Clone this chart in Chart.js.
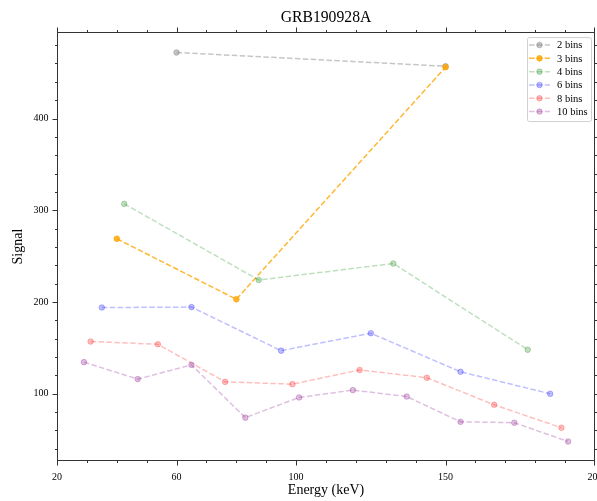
<!DOCTYPE html>
<html lang="en">
<head>
    <meta charset="UTF-8">
    <title>GRB190928A</title>
    <script src="https://cdn.jsdelivr.net/npm/chart.js"></script>
    <style>
        html, body { margin: 0; padding: 0; background: #fff; overflow: hidden; }
    </style>
</head>
<body>
    <canvas id="signalChart" width="597" height="501"></canvas>
    <script>
        // binned signal vs energy, one pair of arrays per binning
        var labels = ['2 bins', '3 bins', '4 bins', '6 bins', '8 bins', '10 bins'];
        var energy2 = [60, 150];
        var signal2 = [472, 457];
        var energy3 = [40, 80, 150];
        var signal3 = [269, 203, 456];
        var energy4 = [42.5, 87.5, 132.5, 177.5];
        var signal4 = [307, 224, 242, 148];
        var energy6 = [35, 65, 95, 125, 155, 185];
        var signal6 = [194, 194.5, 147, 166, 124, 100];
        var energy8 = [31.25, 53.75, 76.25, 98.75, 121.25, 143.75, 166.25, 188.75];
        var signal8 = [157, 154, 113, 110.5, 126, 117.5, 88, 63];
        var energy10 = [29, 47, 65, 83, 101, 119, 137, 155, 173, 191];
        var signal10 = [134.5, 116, 131.5, 74, 96, 104, 97, 69.5, 68.5, 48];

        var xTickLabels = [20, 60, 100, 150, 200];
        var yTickLabels = [100, 200, 300, 400];

        var energies = [energy2, energy3, energy4, energy6, energy8, energy10];
        var signals = [signal2, signal3, signal4, signal6, signal8, signal10];

        var lineColors = ['rgba(128,128,128,0.45)', 'rgba(255,165,0,0.8)', 'rgba(0,128,0,0.25)',
                          'rgba(0,0,255,0.25)', 'rgba(255,0,0,0.25)', 'rgba(128,0,128,0.25)'];

        var serif = "'Liberation Serif', 'Times New Roman', serif";

        var datasets = labels.map(function (label, i) {
            return {
                label: label,
                data: energies[i].map(function (e, j) { return {x: e, y: signals[i][j]}; }),
                borderColor: lineColors[i],
                backgroundColor: lineColors[i],
                pointBackgroundColor: lineColors[i],
                pointBorderColor: lineColors[i],
                borderWidth: 1.5,
                borderDash: [5.5, 2.4],
                pointRadius: 2.8,
                pointBorderWidth: 1,
                fill: false,
                tension: 0,
                order: labels.length - i   // later series on top
            };
        });

        // box frame with outward major/minor ticks on all four sides
        var axisFrame = {
            id: 'axisFrame',
            afterDatasetsDraw: function (chart) {
                var ctx = chart.ctx, a = chart.chartArea;
                var x = chart.scales.x, y = chart.scales.y;
                var L = Math.round(a.left) + 0.5, R = Math.round(a.right) - 0.5;
                var T = Math.round(a.top) + 0.5, B = Math.round(a.bottom) - 0.5;
                ctx.save();
                ctx.strokeStyle = '#333';
                ctx.lineWidth = 1;
                ctx.strokeRect(L, T, R - L, B - T);
                ctx.beginPath();
                for (var v = 20; v <= 200; v += 10) {
                    var len = xTickLabels.indexOf(v) >= 0 ? 5 : 2.5;
                    var px = Math.round(x.getPixelForValue(v)) + 0.5;
                    if (v === 200) px = R;
                    ctx.moveTo(px, B); ctx.lineTo(px, B + len);
                    ctx.moveTo(px, T); ctx.lineTo(px, T - len);
                }
                for (var w = 40; w <= 480; w += 20) {
                    var len2 = yTickLabels.indexOf(w) >= 0 ? 5 : 2.5;
                    var py = Math.round(y.getPixelForValue(w)) + 0.5;
                    ctx.moveTo(L, py); ctx.lineTo(L - len2, py);
                    ctx.moveTo(R, py); ctx.lineTo(R + len2, py);
                }
                ctx.stroke();
                ctx.restore();
            }
        };

        // framed legend in the upper right corner of the plot
        var boxLegend = {
            id: 'boxLegend',
            afterDraw: function (chart) {
                var ctx = chart.ctx, a = chart.chartArea;
                var sets = chart.data.datasets;
                var w = 64, rowH = 13.3, h = 84;
                var x0 = a.right - 4 - w, y0 = a.top + 5;
                ctx.save();
                ctx.beginPath();
                ctx.roundRect(x0 + 0.5, y0 + 0.5, w, h, 2);
                ctx.fillStyle = 'rgba(255,255,255,0.85)';
                ctx.fill();
                ctx.strokeStyle = '#d0d0d0';
                ctx.lineWidth = 1;
                ctx.stroke();
                ctx.font = '10.5px ' + serif;
                ctx.textBaseline = 'middle';
                ctx.textAlign = 'left';
                sets.forEach(function (ds, i) {
                    var cy = y0 + 8 + i * rowH;
                    ctx.beginPath();
                    ctx.setLineDash(ds.borderDash);
                    ctx.strokeStyle = ds.borderColor;
                    ctx.lineWidth = ds.borderWidth;
                    ctx.moveTo(x0 + 2, cy);
                    ctx.lineTo(x0 + 23, cy);
                    ctx.stroke();
                    ctx.setLineDash([]);
                    ctx.beginPath();
                    ctx.arc(x0 + 12.5, cy, ds.pointRadius, 0, Math.PI * 2);
                    ctx.fillStyle = ds.pointBackgroundColor;
                    ctx.fill();
                    ctx.lineWidth = 1;
                    ctx.strokeStyle = ds.pointBorderColor;
                    ctx.stroke();
                    ctx.fillStyle = '#000';
                    ctx.fillText(ds.label, x0 + 30, cy + 0.5);
                });
                ctx.restore();
            }
        };

        var ctx = document.getElementById('signalChart').getContext('2d');
        var signalChart = new Chart(ctx, {
            type: 'line',
            data: { datasets: datasets },
            options: {
                responsive: false,
                animation: false,
                devicePixelRatio: 1,
                layout: { autoPadding: false, padding: { left: 0, right: 2, top: 0, bottom: 0 } },
                plugins: {
                    legend: { display: false },
                    tooltip: { enabled: false },
                    title: {
                        display: true,
                        fullSize: false,
                        text: 'GRB190928A',
                        color: '#000',
                        font: { family: serif, size: 15.7, weight: 'normal', lineHeight: 1.15 },
                        padding: { top: 9, bottom: 5 }
                    }
                },
                scales: {
                    x: {
                        type: 'linear',
                        min: 20,
                        max: 200,
                        afterBuildTicks: function (s) {
                            s.ticks = xTickLabels.map(function (v) { return {value: v}; });
                        },
                        afterFit: function (s) {
                            s.height = 40;
                            s.paddingLeft = 0;
                            s.paddingRight = 0;
                        },
                        grid: { display: false, drawTicks: false },
                        border: { display: false },
                        ticks: {
                            color: '#000',
                            font: { family: serif, size: 10 },
                            padding: 10,
                            maxRotation: 0,
                            autoSkip: false
                        },
                        title: {
                            display: true,
                            text: 'Energy (keV)',
                            color: '#000',
                            font: { family: serif, size: 14 },
                            padding: { top: 0, bottom: 2.6 }
                        }
                    },
                    y: {
                        type: 'linear',
                        min: 26.75,
                        max: 494.25,
                        afterBuildTicks: function (s) {
                            s.ticks = yTickLabels.map(function (v) { return {value: v}; });
                        },
                        afterFit: function (s) {
                            s.width = 57;
                            s.paddingTop = 0;
                            s.paddingBottom = 0;
                        },
                        grid: { display: false, drawTicks: false },
                        border: { display: false },
                        ticks: {
                            color: '#000',
                            font: { family: serif, size: 10 },
                            padding: 8.5,
                            autoSkip: false
                        },
                        title: {
                            display: true,
                            text: 'Signal',
                            color: '#000',
                            font: { family: serif, size: 14 },
                            padding: { top: 9.5, bottom: 0 }
                        }
                    }
                }
            },
            plugins: [axisFrame, boxLegend]
        });
    </script>
</body>
</html>
